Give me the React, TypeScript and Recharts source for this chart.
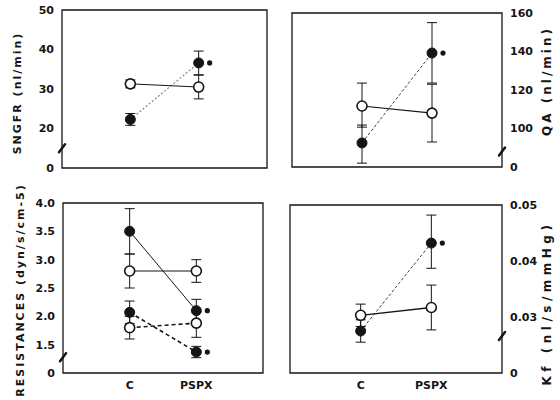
import { LineChart, Line, XAxis, YAxis, ErrorBar, ReferenceArea, ReferenceDot, Label } from "recharts";

const groups = ["C", "PSPX"];
const groupPos = [1, 2];

// SNGFR (nl/min); axis broken below 20, lowest tick reads 0
const sngfrTicks = [10, 20, 30, 40, 50];
const sngfrOpen = [31.3, 30.5];
const sngfrOpenErr = [[1, 1], [3, 3]];
const sngfrFilled = [22.3, 36.6];
const sngfrFilledErr = [[1.5, 1.5], [3, 3]];

// QA (nl/min); axis broken below 100
const qaTicks = [80, 100, 120, 140, 160];
const qaOpen = [111.7, 108];
const qaOpenErr = [[11, 11.9], [15, 15]];
const qaFilled = [92.5, 139.2];
const qaFilledErr = [[10.5, 9.3], [15.6, 15.8]];

// resistances (dyn/s/cm-5): solid pair and dashed pair; broken below 1.5
const resTicks = [1, 1.5, 2, 2.5, 3, 3.5, 4];
const resAOpen = [2.8, 2.8];
const resAOpenErr = [[0.3, 0.3], [0.2, 0.2]];
const resAFilled = [3.5, 2.1];
const resAFilledErr = [[0.4, 0.4], [0.2, 0.2]];
const resBOpen = [1.8, 1.88];
const resBOpenErr = [[0.2, 0.2], [0.25, 0.2]];
const resBFilled = [2.07, 1.37];
const resBFilledErr = [[0.2, 0.2], [0.1, 0.1]];

// Kf (nl/s/mmHg); broken below 0.03
const kfTicks = [0.02, 0.03, 0.04, 0.05];
const kfOpen = [0.0303, 0.0317];
const kfOpenErr = [[0.002, 0.002], [0.004, 0.004]];
const kfFilled = [0.0275, 0.0432];
const kfFilledErr = [[0.002, 0.002], [0.0045, 0.005]];

const FONT = "'DejaVu Sans', sans-serif";
const INK = "#151515";

const rows = (series: Record<string, (number | number[])[]>) =>
  groups.map((g, i) => {
    const r: Record<string, unknown> = { x: groupPos[i], group: g };
    Object.keys(series).forEach((k) => (r[k] = series[k][i]));
    return r;
  });

const sngfrData = rows({ open: sngfrOpen, openErr: sngfrOpenErr, filled: sngfrFilled, filledErr: sngfrFilledErr });
const qaData = rows({ open: qaOpen, openErr: qaOpenErr, filled: qaFilled, filledErr: qaFilledErr });
const resData = rows({
  aOpen: resAOpen, aOpenErr: resAOpenErr, aFilled: resAFilled, aFilledErr: resAFilledErr,
  bOpen: resBOpen, bOpenErr: resBOpenErr, bFilled: resBFilled, bFilledErr: resBFilledErr,
});
const kfData = rows({ open: kfOpen, openErr: kfOpenErr, filled: kfFilled, filledErr: kfFilledErr });

// dots keep a solid outline even on dashed lines
const openDot = { r: 5, fill: "#fff", stroke: INK, strokeWidth: 1.6, strokeDasharray: "none" };
const filledDot = { r: 5, fill: INK, stroke: INK, strokeWidth: 1, strokeDasharray: "none" };

function axisTitle(text: string, dx: number, dy: number, size: number, spacing: number) {
  return (props: any) => {
    const vb = props.viewBox;
    const x = vb.x + dx;
    const y = vb.y + vb.height / 2 + dy;
    return (
      <text
        x={x}
        y={y}
        transform={`rotate(-90 ${x} ${y})`}
        textAnchor="middle"
        dominantBaseline="central"
        fontFamily={FONT}
        fontWeight="bold"
        fontSize={size}
        letterSpacing={spacing}
        fill={INK}
      >
        {text}
      </text>
    );
  };
}

// small slanted stroke marking a broken axis
const breakMark = (props: any) => (
  <path
    d={`M${props.cx - 3} ${props.cy + 4} L${props.cx + 3} ${props.cy - 4}`}
    stroke={INK}
    strokeWidth={2.5}
    strokeLinecap="round"
  />
);

// significance marker beside a point
const sigMark = (props: any) => <circle cx={props.cx + 11} cy={props.cy} r={2.6} fill={INK} />;

const tickStyle = { fontSize: 11, fontWeight: "bold" as const, fill: INK, fontFamily: FONT };

const zeroFmt = (min: number, digits: number) => (v: number) => (v === min ? "0" : v.toFixed(digits));

const layer: React.CSSProperties = { position: "absolute", left: 0, top: 0 };

export default function App() {
  return (
    <div style={{ position: "absolute", left: 0, top: 0, width: 560, height: 400, background: "#fff" }}>
      {/* SNGFR */}
      <div style={layer}>
        <LineChart width={560} height={400} data={sngfrData} margin={{ top: 10, right: 293, left: 0, bottom: 232 }}>
          <XAxis dataKey="x" type="number" domain={[0, 3]} hide />
          <YAxis
            type="number"
            domain={[10, 50]}
            ticks={sngfrTicks}
            interval={0}
            width={62}
            axisLine={false}
            tickLine={false}
            tick={tickStyle}
            tickFormatter={zeroFmt(10, 0)}
          >
            <Label content={axisTitle("SNGFR (nl/min)", 17, 4, 11, 2)} />
          </YAxis>
          <ReferenceArea x1={0} x2={3} y1={10} y2={50} fill="none" stroke={INK} strokeWidth={1.3} ifOverflow="visible" />
          <ReferenceDot x={0} y={15} ifOverflow="visible" shape={breakMark} />
          <Line dataKey="filled" stroke="#888" strokeWidth={1.2} strokeDasharray="2 2" dot={filledDot} isAnimationActive={false}>
            <ErrorBar dataKey="filledErr" width={5} stroke={INK} strokeWidth={1} />
          </Line>
          <Line dataKey="open" stroke={INK} strokeWidth={1} dot={openDot} isAnimationActive={false}>
            <ErrorBar dataKey="openErr" width={5} stroke={INK} strokeWidth={1} />
          </Line>
          <ReferenceDot x={groupPos[1]} y={sngfrFilled[1]} shape={sigMark} />
        </LineChart>
      </div>

      {/* QA */}
      <div style={layer}>
        <LineChart width={560} height={400} data={qaData} margin={{ top: 13, right: 0, left: 292, bottom: 233 }}>
          <XAxis dataKey="x" type="number" domain={[0, 3]} hide />
          <YAxis
            orientation="right"
            type="number"
            domain={[80, 160]}
            ticks={qaTicks}
            interval={0}
            width={58}
            axisLine={false}
            tickLine={false}
            tick={tickStyle}
            tickFormatter={zeroFmt(80, 0)}
          >
            <Label content={axisTitle("QA (nl/min)", 45, -9, 12, 3)} />
          </YAxis>
          <ReferenceArea x1={0} x2={3} y1={80} y2={160} fill="none" stroke={INK} strokeWidth={1.3} ifOverflow="visible" />
          <ReferenceDot x={3} y={88} ifOverflow="visible" shape={breakMark} />
          <Line dataKey="filled" stroke="#444" strokeWidth={1} strokeDasharray="3 2" dot={filledDot} isAnimationActive={false}>
            <ErrorBar dataKey="filledErr" width={5} stroke={INK} strokeWidth={1} />
          </Line>
          <Line dataKey="open" stroke={INK} strokeWidth={1.2} dot={openDot} isAnimationActive={false}>
            <ErrorBar dataKey="openErr" width={5} stroke={INK} strokeWidth={1} />
          </Line>
          <ReferenceDot x={groupPos[1]} y={qaFilled[1]} shape={sigMark} />
        </LineChart>
      </div>

      {/* resistances */}
      <div style={layer}>
        <LineChart width={560} height={400} data={resData} margin={{ top: 203, right: 297, left: 0, bottom: 7 }}>
          <XAxis
            dataKey="x"
            type="number"
            domain={[0, 3]}
            ticks={groupPos}
            interval={0}
            height={20}
            axisLine={false}
            tickLine={false}
            tick={tickStyle}
            tickFormatter={(v: number) => groups[groupPos.indexOf(v)]}
          />
          <YAxis
            type="number"
            domain={[1, 4]}
            ticks={resTicks}
            interval={0}
            width={63}
            axisLine={false}
            tickLine={false}
            tick={tickStyle}
            tickFormatter={zeroFmt(1, 1)}
          >
            <Label content={axisTitle("RESISTANCES (dyn/s/cm-5)", 20, 2, 11, 2)} />
          </YAxis>
          <ReferenceArea x1={0} x2={3} y1={1} y2={4} fill="none" stroke={INK} strokeWidth={1.3} ifOverflow="visible" />
          <ReferenceDot x={0} y={1.28} ifOverflow="visible" shape={breakMark} />
          <Line dataKey="aFilled" stroke={INK} strokeWidth={1} dot={filledDot} isAnimationActive={false}>
            <ErrorBar dataKey="aFilledErr" width={5} stroke={INK} strokeWidth={1} />
          </Line>
          <Line dataKey="aOpen" stroke={INK} strokeWidth={1} dot={openDot} isAnimationActive={false}>
            <ErrorBar dataKey="aOpenErr" width={5} stroke={INK} strokeWidth={1} />
          </Line>
          <Line dataKey="bFilled" stroke={INK} strokeWidth={1.6} strokeDasharray="4 3" dot={filledDot} isAnimationActive={false}>
            <ErrorBar dataKey="bFilledErr" width={5} stroke={INK} strokeWidth={1} />
          </Line>
          <Line dataKey="bOpen" stroke={INK} strokeWidth={1.6} strokeDasharray="4 3" dot={openDot} isAnimationActive={false}>
            <ErrorBar dataKey="bOpenErr" width={5} stroke={INK} strokeWidth={1} />
          </Line>
          <ReferenceDot x={groupPos[1]} y={resAFilled[1]} shape={sigMark} />
          <ReferenceDot x={groupPos[1]} y={resBFilled[1]} shape={sigMark} />
        </LineChart>
      </div>

      {/* Kf */}
      <div style={layer}>
        <LineChart width={560} height={400} data={kfData} margin={{ top: 205, right: 0, left: 290, bottom: 7 }}>
          <XAxis
            dataKey="x"
            type="number"
            domain={[0, 3]}
            ticks={groupPos}
            interval={0}
            height={20}
            axisLine={false}
            tickLine={false}
            tick={tickStyle}
            tickFormatter={(v: number) => groups[groupPos.indexOf(v)]}
          />
          <YAxis
            orientation="right"
            type="number"
            domain={[0.02, 0.05]}
            ticks={kfTicks}
            interval={0}
            width={58}
            axisLine={false}
            tickLine={false}
            tick={tickStyle}
            tickFormatter={zeroFmt(0.02, 2)}
          >
            <Label content={axisTitle("Kf (nl/s/mmHg)", 45, 14, 12, 4.5)} />
          </YAxis>
          <ReferenceArea x1={0} x2={3} y1={0.02} y2={0.05} fill="none" stroke={INK} strokeWidth={1.3} ifOverflow="visible" />
          <ReferenceDot x={3} y={0.0266} ifOverflow="visible" shape={breakMark} />
          <Line dataKey="filled" stroke="#444" strokeWidth={1} strokeDasharray="3 2" dot={filledDot} isAnimationActive={false}>
            <ErrorBar dataKey="filledErr" width={5} stroke={INK} strokeWidth={1} />
          </Line>
          <Line dataKey="open" stroke={INK} strokeWidth={1.3} dot={openDot} isAnimationActive={false}>
            <ErrorBar dataKey="openErr" width={5} stroke={INK} strokeWidth={1} />
          </Line>
          <ReferenceDot x={groupPos[1]} y={kfFilled[1]} shape={sigMark} />
        </LineChart>
      </div>
    </div>
  );
}
